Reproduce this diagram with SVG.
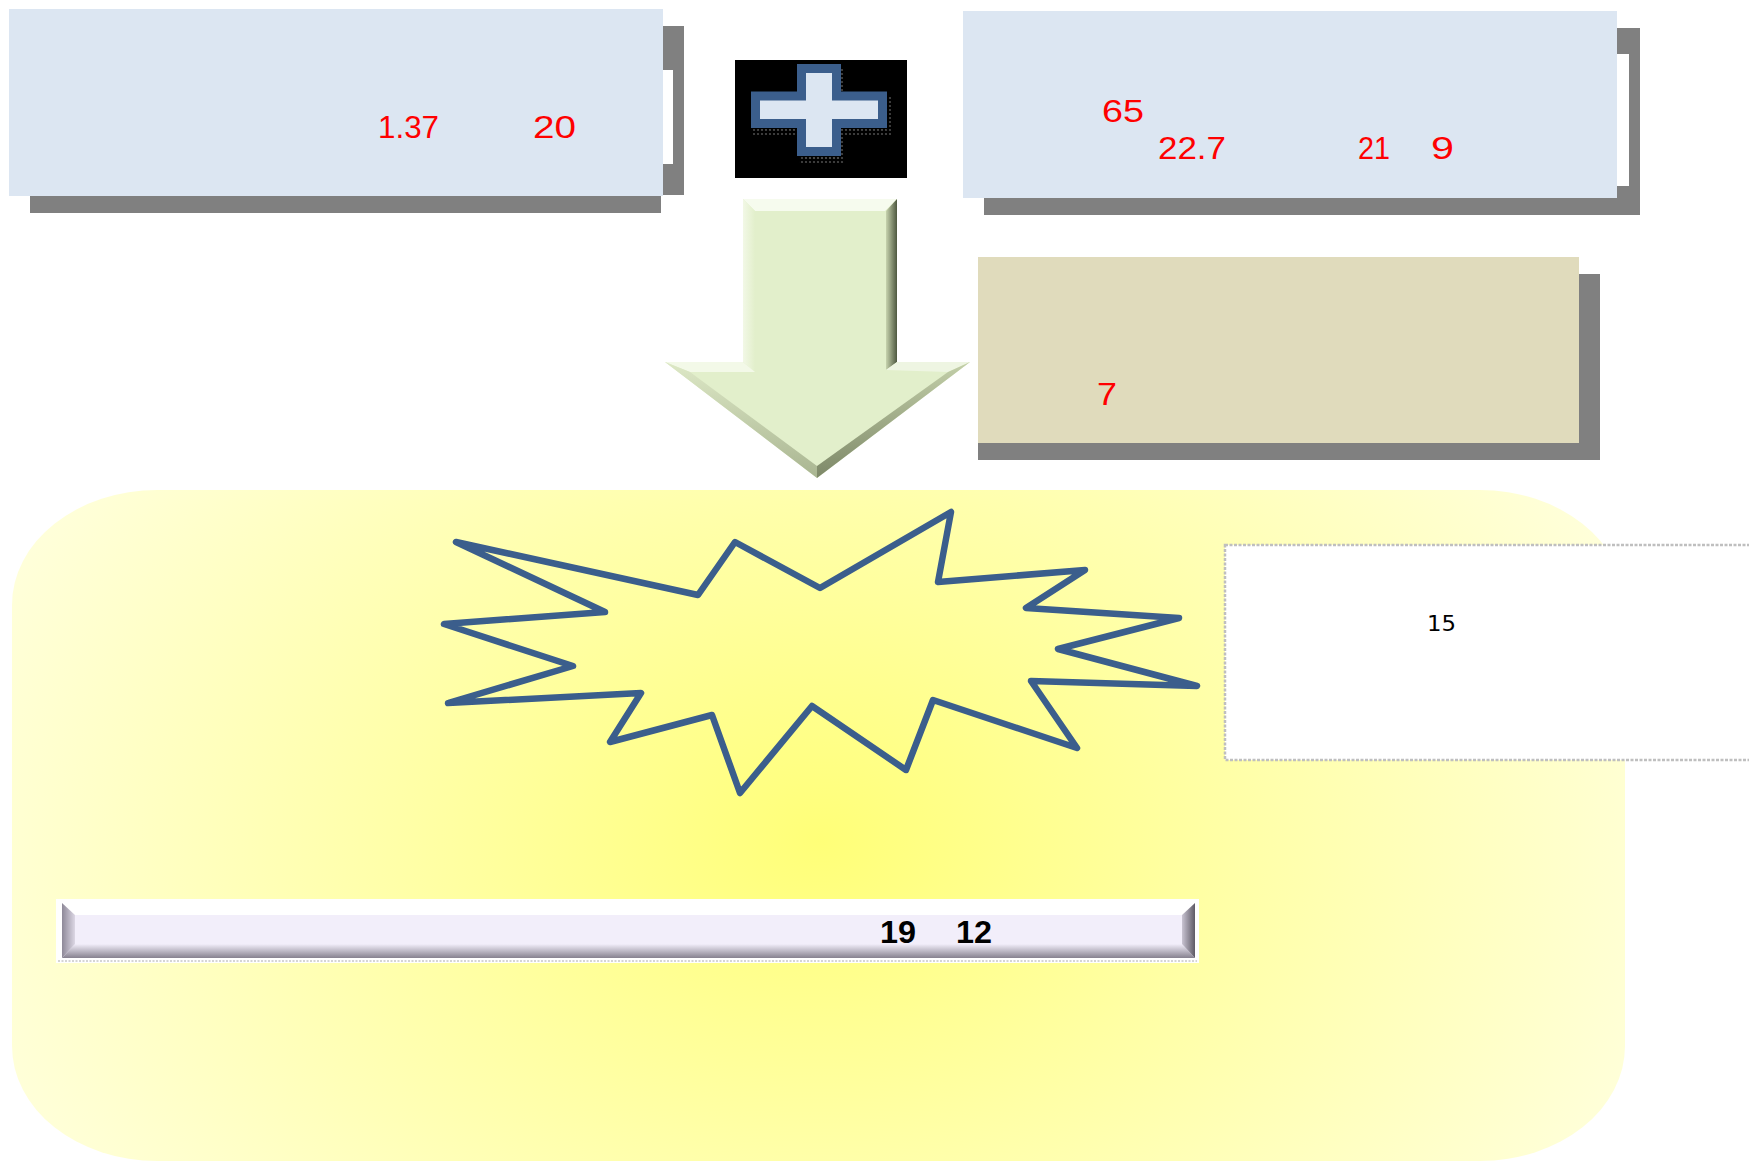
<svg xmlns="http://www.w3.org/2000/svg" width="1749" height="1163" viewBox="0 0 1749 1163">
  <style>
    .shadow { fill: #808080; }
    .bluebox { fill: #DCE6F2; }
    .red { fill: #FF0000; font-family: "Liberation Sans", Arial, sans-serif; font-size: 31px; }
    .black { fill: #000000; font-family: "Liberation Sans", Arial, sans-serif; font-size: 32px; font-weight: bold; }
  </style>
  <defs>
    <radialGradient id="yellowGrad" gradientUnits="userSpaceOnUse" cx="820" cy="840" r="900" gradientTransform="translate(820 840) scale(1 0.75) translate(-820 -840)">
      <stop offset="0" stop-color="#FFFF78"/>
      <stop offset="0.45" stop-color="#FFFFA6"/>
      <stop offset="1" stop-color="#FFFFDC"/>
    </radialGradient>
    <pattern id="dots" width="4" height="4" patternUnits="userSpaceOnUse">
      <circle cx="2" cy="2" r="1.1" fill="#4A4A4A"/>
    </pattern>
    <linearGradient id="arrowRight" x1="0" y1="0" x2="1" y2="0">
      <stop offset="0" stop-color="#C7D3AE"/>
      <stop offset="1" stop-color="#4E5840"/>
    </linearGradient>
    <linearGradient id="arrowLeft" x1="0" y1="0" x2="1" y2="0">
      <stop offset="0" stop-color="#F2F8E6"/>
      <stop offset="1" stop-color="#E2EFCB"/>
    </linearGradient>
    <linearGradient id="headLeft" x1="0" y1="0" x2="0" y2="1">
      <stop offset="0" stop-color="#DDE8C6"/>
      <stop offset="1" stop-color="#A9B591"/>
    </linearGradient>
    <linearGradient id="headRight" x1="0" y1="0" x2="0" y2="1">
      <stop offset="0" stop-color="#C3CFA9"/>
      <stop offset="1" stop-color="#7D8868"/>
    </linearGradient>
    <linearGradient id="barBottom" x1="0" y1="0" x2="0" y2="1">
      <stop offset="0" stop-color="#F2EEFA"/>
      <stop offset="1" stop-color="#86818F"/>
    </linearGradient>
    <linearGradient id="barLeft" x1="0" y1="0" x2="1" y2="0">
      <stop offset="0" stop-color="#8E8998"/>
      <stop offset="1" stop-color="#DCD7E4"/>
    </linearGradient>
    <linearGradient id="barRight" x1="0" y1="0" x2="1" y2="0">
      <stop offset="0" stop-color="#C9C4D2"/>
      <stop offset="1" stop-color="#5E5A66"/>
    </linearGradient>
  </defs>

  <rect width="1749" height="1163" fill="#FFFFFF"/>

  <!-- Yellow background region -->
  <g id="yellow-region">
    <rect x="12" y="490" width="1613" height="671" rx="145" ry="115" fill="url(#yellowGrad)"/>
  </g>

  <!-- Top-left box -->
  <g id="box-top-left">
    <rect class="shadow" x="663" y="26" width="21" height="169"/>
    <rect class="shadow" x="30" y="196" width="631" height="17"/>
    <rect x="663" y="70" width="10" height="94" fill="#FFFFFF"/>
    <rect class="bluebox" x="9" y="9" width="654" height="187"/>
    <text class="red" x="378" y="138" textLength="61" lengthAdjust="spacingAndGlyphs">1.37</text>
    <text class="red" x="533" y="138" textLength="43" lengthAdjust="spacingAndGlyphs">20</text>
  </g>

  <!-- Plus icon -->
  <g id="plus-icon">
    <rect x="735" y="60" width="172" height="118" fill="#000000"/>
    <polygon points="804,72 839,72 839,100 886,100 886,130 839,130 839,160 804,160 804,130 758,130 758,100 804,100" fill="url(#dots)" stroke="url(#dots)" stroke-width="10"/>
    <polygon points="801.5,68.5 836.5,68.5 836.5,96 882.5,96 882.5,123.5 836.5,123.5 836.5,151.5 801.5,151.5 801.5,123.5 755.5,123.5 755.5,96 801.5,96" fill="#DCE6F2" stroke="#3B5E8C" stroke-width="9"/>
  </g>

  <!-- Top-right box -->
  <g id="box-top-right">
    <rect class="shadow" x="984" y="28" width="656" height="187"/>
    <rect x="1616" y="54" width="13" height="132" fill="#FFFFFF"/>
    <rect class="bluebox" x="963" y="11" width="654" height="187"/>
    <text class="red" x="1102" y="122" textLength="42" lengthAdjust="spacingAndGlyphs">65</text>
    <text class="red" x="1158" y="159" textLength="68" lengthAdjust="spacingAndGlyphs">22.7</text>
    <text class="red" x="1358" y="159" textLength="32" lengthAdjust="spacingAndGlyphs">21</text>
    <text class="red" x="1431" y="159" textLength="23" lengthAdjust="spacingAndGlyphs">9</text>
  </g>

  <!-- Beige box -->
  <g id="box-beige">
    <rect class="shadow" x="978" y="274" width="622" height="186"/>
    <rect x="978" y="257" width="601" height="186" fill="#E0DBBC"/>
    <text class="red" x="1097" y="405" textLength="20" lengthAdjust="spacingAndGlyphs">7</text>
  </g>

  <!-- Connectors -->
  <g id="connectors">
    <g id="arrow-down">
      <polygon points="743,199 897,199 897,362 970,362 817,478 665,362 743,362" fill="#E2EFCB"/>
      <polygon points="743,199 897,199 885,211 755,211" fill="#F6FBEE"/>
      <polygon points="897,199 897,362 886,370 886,211" fill="url(#arrowRight)"/>
      <polygon points="743,199 755,211 755,372 743,362" fill="url(#arrowLeft)"/>
      <polygon points="665,362 743,362 755,372 690,372" fill="#F3F9E8"/>
      <polygon points="886,370 897,362 970,362 948,372" fill="#EEF5E2"/>
      <polygon points="665,362 690,372 817,466 817,478" fill="url(#headLeft)"/>
      <polygon points="970,362 948,372 817,466 817,478" fill="url(#headRight)"/>
    </g>
  </g>

  <!-- Starburst -->
  <g id="starburst">
    <polygon points="456,542 698,595 735,542 820,588 951,512 938,582 1085,570 1026,608 1179,618 1058,649 1197,686 1031,681 1077,748 933,700 906,770 812,706 740,793 712,715 610,742 641,693 448,703 573,666 444,624 605,612" fill="none" stroke="#3B5E8C" stroke-width="6.5" stroke-linejoin="round"/>
  </g>

  <!-- White dotted box -->
  <g id="box-note">
    <rect x="1225" y="545" width="540" height="215" fill="#FFFFFF" stroke="#BFBFBF" stroke-width="2.5" stroke-dasharray="3,1.5"/>
    <text x="1427" y="631" font-family="DejaVu Sans, Verdana, sans-serif" font-size="21" fill="#000000" textLength="29" lengthAdjust="spacingAndGlyphs">15</text>
  </g>

  <!-- Lavender bar -->
  <g id="bar">
    <rect x="56" y="899" width="1143" height="64" fill="#FFFFFF"/>
    <rect x="62" y="903" width="1133" height="55" fill="#F2EEFA"/>
    <rect x="62" y="903" width="1133" height="12" fill="#FFFFFF"/>
    <polygon points="62,958 1195,958 1182,944 75,944" fill="url(#barBottom)"/>
    <polygon points="62,903 75,915 75,944 62,958" fill="url(#barLeft)"/>
    <polygon points="1195,903 1182,915 1182,944 1195,958" fill="url(#barRight)"/>
    <line x1="58" y1="961" x2="1197" y2="961" stroke="#C8C8C8" stroke-width="1.5" stroke-dasharray="2,1.5"/>
    <text class="black" x="880" y="943" textLength="36" lengthAdjust="spacingAndGlyphs">19</text>
    <text class="black" x="956" y="943" textLength="36" lengthAdjust="spacingAndGlyphs">12</text>
  </g>
</svg>
